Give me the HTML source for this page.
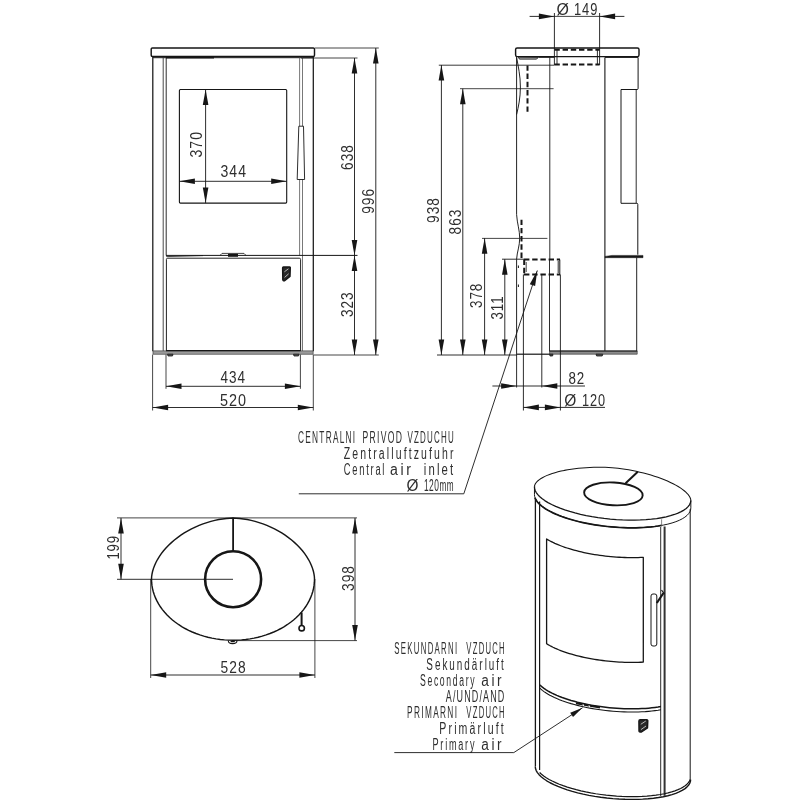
<!DOCTYPE html>
<html lang="cs"><head><meta charset="utf-8"><title>Technical drawing</title>
<style>
html,body{margin:0;padding:0;background:#fff}
body{width:800px;height:800px;overflow:hidden}
svg{display:block;will-change:transform}
text{font-family:"Liberation Sans",sans-serif;fill:#2e2e2e}
</style></head><body>
<svg width="800" height="800" viewBox="0 0 800 800">
<rect width="800" height="800" fill="#fff"/>
<g id="front">
<rect x="151.2" y="47.9" width="163.3" height="8.6" rx="1.2" fill="none" stroke="#161616" stroke-width="1.45"/>
<line x1="152.8" y1="56.5" x2="152.8" y2="351.3" stroke="#161616" stroke-width="1.25" />
<line x1="313.3" y1="56.5" x2="313.3" y2="351.3" stroke="#161616" stroke-width="1.25" />
<line x1="153" y1="57.7" x2="313" y2="57.7" stroke="#161616" stroke-width="1.0" />
<line x1="166" y1="57.6" x2="214" y2="57.6" stroke="#161616" stroke-width="1.6" />
<line x1="163.2" y1="57.5" x2="163.2" y2="351.3" stroke="#2a2a2a" stroke-width="0.85" />
<line x1="166.2" y1="57.5" x2="166.2" y2="255.5" stroke="#161616" stroke-width="0.9" />
<line x1="299.6" y1="57.5" x2="299.6" y2="255.5" stroke="#555" stroke-width="0.8" />
<line x1="302.5" y1="57.5" x2="302.5" y2="351.3" stroke="#555" stroke-width="0.8" />
<rect x="179.4" y="89.5" width="107.3" height="113.6" rx="1" fill="none" stroke="#161616" stroke-width="1.1"/>
<path d="M298.8 126.2 L303.5 126.2 L304.6 179.5 L297.2 179.5 Z" fill="#fff" stroke="#161616" stroke-width="0.9" />
<line x1="166" y1="255.4" x2="357.5" y2="255.4" stroke="#161616" stroke-width="1.0" />
<path d="M166.2 256.6 L203 255.6" fill="none" stroke="#161616" stroke-width="0.8" />
<path d="M220 255.4 L222 253.4 L244 253.4 L246 255.4" fill="none" stroke="#161616" stroke-width="0.8" />
<rect x="228" y="253.8" width="10" height="3" fill="#161616"/>
<path d="M166.4 351 L166.4 259.5 Q166.4 258.2 167.7 258.2 L299.3 258.2 Q300.6 258.2 300.6 259.5 L300.6 351" fill="none" stroke="#161616" stroke-width="0.95" />
<path d="M283.4 267 L289.6 267 Q290.4 267 290.3 268 L290 276.5 L284.5 280.8 Q282.8 281 282.8 279.8 L282.6 268 Q282.6 267 283.4 267 Z" fill="#2a2a2a" stroke="#161616" stroke-width="1.4" />
<path d="M284.4 271.8 L288.4 268.8 M284.6 277.4 L288.6 273.8" fill="none" stroke="#ddd" stroke-width="0.8" />
<rect x="153" y="350.9" width="160.1" height="3.3" fill="#9a9a9a" stroke="#444" stroke-width="0.7"/>
<line x1="166" y1="350.7" x2="300.6" y2="350.7" stroke="#161616" stroke-width="1.3" />
<path d="M167.5 354.2 L168 356 L172.5 356 L173 354.2 Z" fill="#555" stroke="#161616" stroke-width="0.8" />
<path d="M293.5 354.2 L294 356 L298.5 356 L299 354.2 Z" fill="#555" stroke="#161616" stroke-width="0.8" />
<line x1="205.6" y1="89.5" x2="205.6" y2="203.1" stroke="#161616" stroke-width="0.9" />
<polygon points="205.60,89.50 202.80,105.00 208.40,105.00" fill="#161616"/>
<polygon points="205.60,203.10 202.80,187.60 208.40,187.60" fill="#161616"/>
<line x1="179.4" y1="181.3" x2="286.7" y2="181.3" stroke="#161616" stroke-width="0.9" />
<polygon points="179.40,181.30 194.90,178.50 194.90,184.10" fill="#161616"/>
<polygon points="286.70,181.30 271.20,178.50 271.20,184.10" fill="#161616"/>
<text x="202.4" y="157.5" font-size="16.8" textLength="26.46" lengthAdjust="spacingAndGlyphs" letter-spacing="1.2" word-spacing="0" transform="rotate(-90 202.4 157.5)">370</text>
<text x="220.5" y="176.5" font-size="16.8" textLength="26.46" lengthAdjust="spacingAndGlyphs" letter-spacing="1.2" word-spacing="0">344</text>
<line x1="301" y1="58" x2="357.5" y2="58" stroke="#161616" stroke-width="0.8" />
<line x1="315" y1="48" x2="378.8" y2="48" stroke="#161616" stroke-width="0.8" />
<line x1="313.7" y1="355" x2="378.8" y2="355" stroke="#161616" stroke-width="0.8" />
<line x1="354.5" y1="58" x2="354.5" y2="355" stroke="#161616" stroke-width="0.9" />
<polygon points="354.50,58.00 351.70,73.50 357.30,73.50" fill="#161616"/>
<polygon points="354.50,255.40 351.70,239.90 357.30,239.90" fill="#161616"/>
<polygon points="354.50,255.40 351.70,270.90 357.30,270.90" fill="#161616"/>
<polygon points="354.50,355.00 351.70,339.50 357.30,339.50" fill="#161616"/>
<line x1="375.8" y1="48" x2="375.8" y2="355" stroke="#161616" stroke-width="0.9" />
<polygon points="375.80,48.00 373.00,63.50 378.60,63.50" fill="#161616"/>
<polygon points="375.80,355.00 373.00,339.50 378.60,339.50" fill="#161616"/>
<text x="353" y="170" font-size="16.8" textLength="25.96" lengthAdjust="spacingAndGlyphs" letter-spacing="1.2" word-spacing="0" transform="rotate(-90 353 170)">638</text>
<text x="353" y="317" font-size="16.8" textLength="25.46" lengthAdjust="spacingAndGlyphs" letter-spacing="1.2" word-spacing="0" transform="rotate(-90 353 317)">323</text>
<text x="374.5" y="213.8" font-size="16.8" textLength="25.96" lengthAdjust="spacingAndGlyphs" letter-spacing="1.2" word-spacing="0" transform="rotate(-90 374.5 213.8)">996</text>
<line x1="166" y1="354.6" x2="166" y2="388.8" stroke="#161616" stroke-width="0.8" />
<line x1="300.4" y1="354.6" x2="300.4" y2="388.8" stroke="#161616" stroke-width="0.8" />
<line x1="152.6" y1="354.6" x2="152.6" y2="410.5" stroke="#161616" stroke-width="0.8" />
<line x1="313.3" y1="354.6" x2="313.3" y2="410.5" stroke="#161616" stroke-width="0.8" />
<line x1="166" y1="386.3" x2="300.4" y2="386.3" stroke="#161616" stroke-width="0.9" />
<polygon points="166.00,386.30 181.50,383.50 181.50,389.10" fill="#161616"/>
<polygon points="300.40,386.30 284.90,383.50 284.90,389.10" fill="#161616"/>
<line x1="152.6" y1="407.5" x2="313.3" y2="407.5" stroke="#161616" stroke-width="0.9" />
<polygon points="152.60,407.50 168.10,404.70 168.10,410.30" fill="#161616"/>
<polygon points="313.30,407.50 297.80,404.70 297.80,410.30" fill="#161616"/>
<text x="220.5" y="383" font-size="16.8" textLength="25.46" lengthAdjust="spacingAndGlyphs" letter-spacing="1.2" word-spacing="0">434</text>
<text x="220" y="405.5" font-size="16.8" textLength="27.16" lengthAdjust="spacingAndGlyphs" letter-spacing="1.2" word-spacing="0">520</text>
</g>
<g id="side">
<rect x="515.6" y="48" width="123.4" height="8.6" rx="1.6" fill="none" stroke="#161616" stroke-width="1.45"/>
<path d="M518.4 57.2 L519.4 59.1 L536.6 59.1 L538.2 57.4 Z" fill="#bbb" stroke="#161616" stroke-width="0.9" />
<line x1="516.6" y1="56.8" x2="516.6" y2="214.6" stroke="#161616" stroke-width="0.95" />
<path d="M516.6 57.5 C518.2 66 520.4 76 520.4 87 C520.4 98 518.4 107 516.6 114.5" fill="none" stroke="#161616" stroke-width="0.95" />
<path d="M516.6 214.6 C517.2 224 519.7 230 519.7 238.2 C519.7 246 517 252 516.6 259.2" fill="none" stroke="#161616" stroke-width="0.95" />
<line x1="516.6" y1="259.2" x2="516.6" y2="355" stroke="#161616" stroke-width="0.95" />
<path d="M538.5 57.4 L554.4 57.4" fill="none" stroke="#161616" stroke-width="0.9" />
<line x1="549.8" y1="57.4" x2="549.8" y2="259" stroke="#161616" stroke-width="0.9" />
<line x1="549.5" y1="259" x2="549.5" y2="351.5" stroke="#161616" stroke-width="0.9" />
<line x1="604.9" y1="57.4" x2="604.9" y2="351" stroke="#161616" stroke-width="1.1" />
<line x1="604.9" y1="57.5" x2="638" y2="57.5" stroke="#161616" stroke-width="0.9" />
<path d="M638.1 57.4 L638.1 88.6 Q638.1 89.5 637 89.5 L621 89.5 L621 203.3 L636.9 203.3 Q637.8 203.3 637.8 204.4 L637.8 254.7" fill="none" stroke="#161616" stroke-width="1.0" />
<line x1="636.7" y1="257.5" x2="636.7" y2="351" stroke="#161616" stroke-width="0.95" />
<line x1="636.2" y1="89.5" x2="636.2" y2="203.3" stroke="#161616" stroke-width="0.9" />
<path d="M605 256.4 L612 255.4 L643 255.4 L643 257.7 L605 257.7 Z" fill="#161616" stroke="#161616" stroke-width="0.5" />
<path d="M549.6 351 L637.2 351 L637.2 354.2 L549.6 354.2 Z" fill="#8c8c8c" stroke="#444" stroke-width="0.7" />
<line x1="549.6" y1="351" x2="637.2" y2="351" stroke="#161616" stroke-width="1.1" />
<line x1="516.6" y1="354.2" x2="550" y2="354.2" stroke="#444" stroke-width="1.6" />
<path d="M549.6 354.2 L550 356 L552.6 356 L553 354.2 Z" fill="#444" stroke="#161616" stroke-width="0.8" />
<path d="M596 354.2 L596.6 356 L602.2 356 L602.8 354.2 Z" fill="#555" stroke="#161616" stroke-width="0.8" />
<line x1="554.4" y1="49.7" x2="599.6" y2="49.7" stroke="#161616" stroke-width="2.0" stroke-dasharray="5.4 2.8"/>
<line x1="554.4" y1="64.5" x2="599.6" y2="64.5" stroke="#161616" stroke-width="2.0" stroke-dasharray="5.4 2.8"/>
<line x1="557" y1="49.7" x2="557" y2="64.5" stroke="#161616" stroke-width="0.9" />
<line x1="597.4" y1="49.7" x2="597.4" y2="64.5" stroke="#161616" stroke-width="0.9" />
<line x1="554.4" y1="13" x2="554.4" y2="65" stroke="#161616" stroke-width="0.9" />
<line x1="599.6" y1="13" x2="599.6" y2="65" stroke="#161616" stroke-width="0.9" />
<line x1="529.6" y1="16.4" x2="554.4" y2="16.4" stroke="#161616" stroke-width="0.9" />
<line x1="599.6" y1="16.4" x2="624.4" y2="16.4" stroke="#161616" stroke-width="0.9" />
<line x1="554.4" y1="16.4" x2="599.6" y2="16.4" stroke="#161616" stroke-width="0.8" />
<polygon points="554.40,16.40 538.90,13.60 538.90,19.20" fill="#161616"/>
<polygon points="599.60,16.40 615.10,13.60 615.10,19.20" fill="#161616"/>
<line x1="527.5" y1="65.4" x2="527.5" y2="113.4" stroke="#161616" stroke-width="2.0" stroke-dasharray="5.4 2.8"/>
<line x1="521.5" y1="219.7" x2="521.5" y2="258" stroke="#161616" stroke-width="2.0" stroke-dasharray="5.4 2.8"/>
<line x1="524" y1="259.6" x2="560" y2="259.6" stroke="#161616" stroke-width="2.0" stroke-dasharray="5.4 2.8"/>
<line x1="524" y1="274.4" x2="560" y2="274.4" stroke="#161616" stroke-width="2.0" stroke-dasharray="5.4 2.8"/>
<line x1="524.2" y1="259.6" x2="524.2" y2="274.4" stroke="#161616" stroke-width="2.0" stroke-dasharray="5.4 2.8"/>
<line x1="559.8" y1="259.6" x2="559.8" y2="274.4" stroke="#161616" stroke-width="1.0" />
<line x1="558.2" y1="261" x2="558.2" y2="273" stroke="#161616" stroke-width="0.9" />
<line x1="526.2" y1="262" x2="526.2" y2="272" stroke="#161616" stroke-width="0.8" />
<line x1="523.4" y1="274.4" x2="523.4" y2="410.5" stroke="#161616" stroke-width="0.9" />
<line x1="541.8" y1="275" x2="541.8" y2="387.5" stroke="#161616" stroke-width="0.9" />
<line x1="560.4" y1="274.4" x2="560.4" y2="410.5" stroke="#161616" stroke-width="0.9" />
<line x1="516.6" y1="355" x2="516.6" y2="387.5" stroke="#161616" stroke-width="0.9" />
<line x1="518.4" y1="265.5" x2="518.4" y2="268" stroke="#161616" stroke-width="1.0" />
<line x1="518.4" y1="284.5" x2="518.4" y2="287" stroke="#161616" stroke-width="1.0" />
<line x1="438.8" y1="65.2" x2="554.4" y2="65.2" stroke="#161616" stroke-width="0.85" />
<line x1="460" y1="88.7" x2="553.6" y2="88.7" stroke="#161616" stroke-width="0.8" />
<line x1="482" y1="238.4" x2="547.4" y2="238.4" stroke="#161616" stroke-width="0.8" />
<line x1="502" y1="259.2" x2="524" y2="259.2" stroke="#161616" stroke-width="0.9" />
<line x1="437" y1="355" x2="517" y2="355" stroke="#161616" stroke-width="0.9" />
<line x1="441.4" y1="65" x2="441.4" y2="355" stroke="#161616" stroke-width="0.9" />
<polygon points="441.40,65.00 438.60,80.50 444.20,80.50" fill="#161616"/>
<polygon points="441.40,355.00 438.60,339.50 444.20,339.50" fill="#161616"/>
<line x1="462.8" y1="88.7" x2="462.8" y2="355" stroke="#161616" stroke-width="0.9" />
<polygon points="462.80,88.70 460.00,104.20 465.60,104.20" fill="#161616"/>
<polygon points="462.80,355.00 460.00,339.50 465.60,339.50" fill="#161616"/>
<line x1="484.6" y1="238.2" x2="484.6" y2="355" stroke="#161616" stroke-width="0.9" />
<polygon points="484.60,238.20 481.80,253.70 487.40,253.70" fill="#161616"/>
<polygon points="484.60,355.00 481.80,339.50 487.40,339.50" fill="#161616"/>
<line x1="504.8" y1="259.2" x2="504.8" y2="355" stroke="#161616" stroke-width="0.9" />
<polygon points="504.80,259.20 502.00,274.70 507.60,274.70" fill="#161616"/>
<polygon points="504.80,355.00 502.00,339.50 507.60,339.50" fill="#161616"/>
<text x="438.6" y="223" font-size="16.8" textLength="25.96" lengthAdjust="spacingAndGlyphs" letter-spacing="1.2" word-spacing="0" transform="rotate(-90 438.6 223)">938</text>
<text x="461" y="234.5" font-size="16.8" textLength="25.96" lengthAdjust="spacingAndGlyphs" letter-spacing="1.2" word-spacing="0" transform="rotate(-90 461 234.5)">863</text>
<text x="482.4" y="308" font-size="16.8" textLength="25.26" lengthAdjust="spacingAndGlyphs" letter-spacing="1.2" word-spacing="0" transform="rotate(-90 482.4 308)">378</text>
<text x="502.6" y="319.5" font-size="16.8" textLength="23.96" lengthAdjust="spacingAndGlyphs" letter-spacing="1.2" word-spacing="0" transform="rotate(-90 502.6 319.5)">311</text>
<line x1="492.4" y1="386" x2="585" y2="386" stroke="#161616" stroke-width="0.9" />
<polygon points="516.60,386.00 501.10,383.20 501.10,388.80" fill="#161616"/>
<polygon points="541.80,386.00 557.30,383.20 557.30,388.80" fill="#161616"/>
<line x1="523.4" y1="407.4" x2="605" y2="407.4" stroke="#161616" stroke-width="0.9" />
<polygon points="523.40,407.40 538.90,404.60 538.90,410.20" fill="#161616"/>
<polygon points="560.40,407.40 544.90,404.60 544.90,410.20" fill="#161616"/>
<text x="568.4" y="384" font-size="16.8" textLength="16.76" lengthAdjust="spacingAndGlyphs" letter-spacing="1.2" word-spacing="0">82</text>
<text y="405.6" font-size="16.8" letter-spacing="1.2"><tspan x="564.2" textLength="13.16" lengthAdjust="spacingAndGlyphs">Ø</tspan><tspan x="582" textLength="23.96" lengthAdjust="spacingAndGlyphs">120</tspan></text>
<text y="14.7" font-size="16.8" letter-spacing="1.2"><tspan x="556.4" textLength="13.56" lengthAdjust="spacingAndGlyphs">Ø</tspan><tspan x="574" textLength="24.26" lengthAdjust="spacingAndGlyphs">149</tspan></text>
</g>
<g id="lab1">
<text y="442.8" font-size="15.8" letter-spacing="2.4"><tspan x="298" textLength="58.42" lengthAdjust="spacingAndGlyphs">CENTRALNI</tspan> <tspan x="362.5" textLength="40.72" lengthAdjust="spacingAndGlyphs">PRIVOD</tspan> <tspan x="407.5" textLength="47.42" lengthAdjust="spacingAndGlyphs">VZDUCHU</tspan></text>
<text x="343.8" y="459" font-size="15.8" textLength="111.76" lengthAdjust="spacingAndGlyphs" letter-spacing="3.2" word-spacing="0">Zentralluftzufuhr</text>
<text y="475.3" font-size="15.8" letter-spacing="3"><tspan x="343.8" textLength="42.40" lengthAdjust="spacingAndGlyphs">Central</tspan> <tspan x="390" textLength="23.70" lengthAdjust="spacingAndGlyphs">air</tspan> <tspan x="423.8" textLength="31.60" lengthAdjust="spacingAndGlyphs">inlet</tspan></text>
<text y="491" font-size="15.8" letter-spacing="0.8"><tspan x="406.5" textLength="12.74" lengthAdjust="spacingAndGlyphs">Ø</tspan><tspan x="424" textLength="15.24" lengthAdjust="spacingAndGlyphs">120</tspan><tspan x="439.6" textLength="14.44" lengthAdjust="spacingAndGlyphs">mm</tspan></text>
<path d="M298.8 493.8 L463.8 493.8 L537.3 270.5" fill="none" stroke="#161616" stroke-width="0.9" />
<polygon points="537.30,270.50 535.11,286.10 529.79,284.35" fill="#161616"/>
</g>
<g id="top">
<path d="M151.50 579.00 L151.62 576.70 L152.00 574.05 L152.61 571.25 L153.48 568.37 L154.58 565.44 L155.92 562.48 L157.49 559.53 L159.29 556.59 L161.31 553.67 L163.54 550.81 L165.97 548.00 L168.60 545.26 L171.41 542.60 L174.40 540.03 L177.55 537.56 L180.85 535.21 L184.28 532.98 L187.84 530.88 L191.51 528.91 L195.27 527.10 L199.11 525.43 L203.00 523.92 L206.94 522.58 L210.90 521.40 L214.85 520.40 L218.77 519.58 L222.63 518.93 L226.37 518.47 L229.93 518.19 L233.00 518.10 L236.07 518.19 L239.63 518.47 L243.37 518.93 L247.23 519.58 L251.15 520.40 L255.10 521.40 L259.06 522.58 L263.00 523.92 L266.89 525.43 L270.73 527.10 L274.49 528.91 L278.16 530.88 L281.72 532.98 L285.15 535.21 L288.45 537.56 L291.60 540.03 L294.59 542.60 L297.40 545.26 L300.03 548.00 L302.46 550.81 L304.69 553.67 L306.71 556.59 L308.51 559.53 L310.08 562.48 L311.42 565.44 L312.52 568.37 L313.39 571.25 L314.00 574.05 L314.38 576.70 L314.50 579.00 L314.39 582.20 L314.05 585.40 L313.50 588.57 L312.72 591.72 L311.72 594.84 L310.51 597.91 L309.09 600.93 L307.45 603.89 L305.62 606.78 L303.58 609.60 L301.35 612.33 L298.93 614.97 L296.34 617.51 L293.57 619.95 L290.63 622.27 L287.53 624.48 L284.29 626.56 L280.90 628.51 L277.39 630.33 L273.75 632.00 L270.00 633.53 L266.15 634.91 L262.21 636.14 L258.18 637.20 L254.09 638.11 L249.94 638.86 L245.75 639.45 L241.52 639.86 L237.27 640.12 L233.00 640.20 L228.73 640.12 L224.48 639.86 L220.25 639.45 L216.06 638.86 L211.91 638.11 L207.82 637.20 L203.79 636.14 L199.85 634.91 L196.00 633.53 L192.25 632.00 L188.61 630.33 L185.10 628.51 L181.71 626.56 L178.47 624.48 L175.37 622.27 L172.43 619.95 L169.66 617.51 L167.07 614.97 L164.65 612.33 L162.42 609.60 L160.38 606.78 L158.55 603.89 L156.91 600.93 L155.49 597.91 L154.28 594.84 L153.28 591.72 L152.50 588.57 L151.95 585.40 L151.61 582.20 Z" fill="none" stroke="#161616" stroke-width="1.45" />
<circle cx="233.1" cy="579.2" r="28" fill="none" stroke="#161616" stroke-width="2.6"/>
<line x1="233.1" y1="517.8" x2="233.1" y2="551" stroke="#161616" stroke-width="1.8" />
<line x1="117" y1="579.3" x2="233" y2="579.3" stroke="#161616" stroke-width="0.9" />
<line x1="117" y1="517.9" x2="357" y2="517.9" stroke="#161616" stroke-width="0.8" />
<line x1="233" y1="640.6" x2="357" y2="640.6" stroke="#161616" stroke-width="0.8" />
<line x1="121" y1="517.9" x2="121" y2="579.3" stroke="#161616" stroke-width="0.9" />
<polygon points="121.00,517.90 118.20,533.40 123.80,533.40" fill="#161616"/>
<polygon points="121.00,579.30 118.20,563.80 123.80,563.80" fill="#161616"/>
<line x1="355" y1="517.9" x2="355" y2="640.6" stroke="#161616" stroke-width="0.9" />
<polygon points="355.00,517.90 352.20,533.40 357.80,533.40" fill="#161616"/>
<polygon points="355.00,640.60 352.20,625.10 357.80,625.10" fill="#161616"/>
<line x1="150.7" y1="579" x2="150.7" y2="678" stroke="#161616" stroke-width="0.8" />
<line x1="314.9" y1="579" x2="314.9" y2="678" stroke="#161616" stroke-width="0.8" />
<line x1="150.7" y1="675" x2="314.9" y2="675" stroke="#161616" stroke-width="0.9" />
<polygon points="150.70,675.00 166.20,672.20 166.20,677.80" fill="#161616"/>
<polygon points="314.90,675.00 299.40,672.20 299.40,677.80" fill="#161616"/>
<text x="119" y="559.6" font-size="16.8" textLength="24.56" lengthAdjust="spacingAndGlyphs" letter-spacing="1.2" word-spacing="0" transform="rotate(-90 119 559.6)">199</text>
<text x="353.5" y="591" font-size="16.8" textLength="25.96" lengthAdjust="spacingAndGlyphs" letter-spacing="1.2" word-spacing="0" transform="rotate(-90 353.5 591)">398</text>
<text x="220.6" y="672.6" font-size="16.8" textLength="25.96" lengthAdjust="spacingAndGlyphs" letter-spacing="1.2" word-spacing="0">528</text>
<line x1="301.6" y1="612.5" x2="301.6" y2="625" stroke="#161616" stroke-width="2.0" />
<circle cx="301.7" cy="628.2" r="2.7" fill="#fff" stroke="#161616" stroke-width="1.6"/>
<path d="M228.3 640.4 Q228.3 643.6 232.6 643.6 Q237 643.6 237 640.4" fill="none" stroke="#161616" stroke-width="1.1" />
<path d="M230.6 641.6 L234.8 641.6" fill="none" stroke="#161616" stroke-width="1.3" />
</g>
<g id="iso">
<path d="M690.80 500.86 L690.37 502.85 L689.47 504.77 L688.08 506.63 L686.23 508.41 L683.93 510.09 L681.19 511.67 L678.03 513.14 L674.46 514.49 L670.51 515.71 L666.21 516.80 L661.57 517.74 L656.64 518.53 L651.43 519.16 L645.98 519.64 L640.33 519.96 L634.51 520.11 L628.55 520.10 L622.50 519.92 L616.38 519.59 L610.24 519.09 L604.12 518.43 L598.04 517.62 L592.06 516.66 L586.21 515.56 L580.52 514.32 L575.02 512.96 L569.76 511.47 L564.76 509.87 L560.06 508.18 L555.68 506.39 L551.66 504.52 L548.01 502.58 L544.75 500.59 L541.92 498.56 L539.52 496.49 L537.58 494.41 L536.09 492.32 L535.08 490.23 L534.55 488.17 L534.50 486.14" fill="none" stroke="#161616" stroke-width="1.3" stroke-linejoin="round" />
<path d="M534.50 486.14 L534.71 485.19 L535.17 484.10 L535.87 482.98 L536.81 481.85 L537.99 480.72 L539.39 479.60 L541.01 478.50 L542.85 477.43 L544.90 476.39 L547.16 475.38 L549.60 474.42 L552.23 473.51 L555.03 472.64 L558.00 471.83 L561.11 471.08 L564.37 470.39 L567.75 469.77 L571.25 469.20 L574.84 468.71 L578.52 468.29 L582.27 467.93 L586.06 467.65 L589.89 467.44 L593.73 467.30 L597.56 467.24 L601.35 467.25 L605.08 467.33 L608.69 467.47 L612.11 467.67 L615.06 467.91 L618.00 468.23 L621.40 468.67 L624.98 469.20 L628.65 469.82 L632.38 470.52 L636.13 471.30 L639.87 472.15 L643.59 473.07 L647.27 474.05 L650.88 475.10 L654.42 476.20 L657.86 477.36 L661.19 478.56 L664.39 479.81 L667.47 481.10 L670.39 482.42 L673.15 483.77 L675.74 485.14 L678.15 486.53 L680.38 487.93 L682.40 489.33 L684.22 490.74 L685.83 492.14 L687.22 493.52 L688.39 494.88 L689.33 496.21 L690.04 497.50 L690.52 498.73 L690.78 499.88 L690.80 500.86" fill="none" stroke="#161616" stroke-width="1.05" stroke-linejoin="round" />
<path d="M534.46 494.61 L534.69 496.65 L535.41 498.73 L536.60 500.81 L538.27 502.90 L540.39 504.98 L542.95 507.04 L545.95 509.06 L549.35 511.03 L553.15 512.94 L557.31 514.78 L561.82 516.54 L566.64 518.20 L571.74 519.75 L577.09 521.19 L582.67 522.51 L588.43 523.70 L594.33 524.75 L600.35 525.65 L606.45 526.40 L612.59 527.00 L618.72 527.43 L624.82 527.71 L630.84 527.82 L636.75 527.77 L642.51 527.55 L648.09 527.18 L653.45 526.64 L658.56 525.94 L663.38 525.09 L667.89 524.10 L672.07 522.96 L675.87 521.69 L679.29 520.30 L682.29 518.78 L684.86 517.16 L686.99 515.44 L688.67 513.63 L689.87 511.74 L690.60 509.79 L690.84 507.79" fill="none" stroke="#161616" stroke-width="1.0" stroke-linejoin="round" />
<path d="M661.50 525.45 L658.18 526.00 L654.74 526.48 L651.18 526.89 L647.50 527.22 L643.73 527.49 L639.87 527.67 L635.94 527.79 L631.94 527.82 L627.88 527.79 L623.78 527.67 L619.65 527.49 L615.50 527.22 L611.34 526.89 L607.18 526.48 L603.05 526.00 L598.93 525.45 L594.86 524.83 L590.84 524.14 L586.87 523.39 L582.99 522.58 L579.18 521.71 L575.47 520.78 L571.87 519.79 L568.38 518.75 L565.01 517.66 L561.78 516.52 L558.70 515.34 L555.77 514.12 L552.99 512.87 L550.39 511.58 L547.96 510.26 L545.72 508.92 L543.66 507.55 L541.80 506.17 L540.15 504.77 L538.69 503.36 L537.45 501.95 L536.42 500.53 L535.60 499.12 L535.00 497.71" fill="none" stroke="#161616" stroke-width="1.7" stroke-linejoin="round" />
<path d="M534.46 486.91 L534.46 494.61 M690.84 500.09 L690.84 507.79" fill="none" stroke="#161616" stroke-width="1.0" stroke-linejoin="round" />
<path d="M661.6 519.3 L661.6 526.5" fill="none" stroke="#555" stroke-width="0.7" stroke-linejoin="round" />
<ellipse cx="613.4" cy="493.9" rx="29.3" ry="11.4" transform="rotate(3 613.4 493.9)" fill="none" stroke="#161616" stroke-width="1.9"/>
<path d="M625.6 483.2 L637.8 471.8" fill="none" stroke="#161616" stroke-width="2.0" stroke-linejoin="round" />
<path d="M535.4 498 L535.4 766.3" fill="none" stroke="#161616" stroke-width="1.3" stroke-linejoin="round" />
<path d="M539.6 501.5 L539.6 770" fill="none" stroke="#161616" stroke-width="1.2" stroke-linejoin="round" />
<path d="M690.2 509 L690.2 779.8" fill="none" stroke="#161616" stroke-width="1.0" stroke-linejoin="round" />
<path d="M660.7 527 L660.7 796" fill="none" stroke="#161616" stroke-width="0.9" stroke-linejoin="round" />
<path d="M664.6 526.5 L664.6 795.8" fill="none" stroke="#333" stroke-width="2.0" stroke-linejoin="round" />
<path d="M546.60 538.94 L548.08 539.84 L549.64 540.72 L551.29 541.59 L553.01 542.45 L554.81 543.30 L556.68 544.12 L558.63 544.94 L560.64 545.73 L562.72 546.51 L564.86 547.27 L567.06 548.00 L569.33 548.72 L571.64 549.41 L574.01 550.08 L576.43 550.73 L578.90 551.35 L581.41 551.95 L583.96 552.52 L586.54 553.06 L589.16 553.57 L591.81 554.06 L594.49 554.52 L597.19 554.94 L599.91 555.34 L602.64 555.71 L605.39 556.04 L608.15 556.35 L610.92 556.62 L613.69 556.86 L616.45 557.07 L619.21 557.24 L621.97 557.39 L624.71 557.49 L627.44 557.57 L630.15 557.61 L632.84 557.62 L635.50 557.59 L638.13 557.53 L640.73 557.44 L643.30 557.32 L643.30 662.12 L640.73 662.24 L638.13 662.33 L635.50 662.39 L632.84 662.42 L630.15 662.41 L627.44 662.37 L624.71 662.29 L621.97 662.19 L619.21 662.04 L616.45 661.87 L613.69 661.66 L610.92 661.42 L608.15 661.15 L605.39 660.84 L602.64 660.51 L599.91 660.14 L597.19 659.74 L594.49 659.32 L591.81 658.86 L589.16 658.37 L586.54 657.86 L583.96 657.32 L581.41 656.75 L578.90 656.15 L576.43 655.53 L574.01 654.88 L571.64 654.21 L569.33 653.52 L567.06 652.80 L564.86 652.07 L562.72 651.31 L560.64 650.53 L558.63 649.74 L556.68 648.92 L554.81 648.10 L553.01 647.25 L551.29 646.39 L549.64 645.52 L548.08 644.64 L546.60 643.74 Z" fill="none" stroke="#161616" stroke-width="1.3" stroke-linejoin="round" />
<rect x="651" y="594" width="5.8" height="52" rx="2" fill="#fff" stroke="#161616" stroke-width="1.0"/>
<path d="M656.8 603 L663.5 593" fill="none" stroke="#161616" stroke-width="2.2" stroke-linejoin="round" />
<path d="M661.5 590 L664.5 594" fill="none" stroke="#161616" stroke-width="1.2" stroke-linejoin="round" />
<path d="M539.60 684.68 L540.90 685.93 L542.36 687.17 L543.99 688.40 L545.77 689.61 L547.70 690.81 L549.77 691.99 L551.99 693.15 L554.35 694.29 L556.84 695.39 L559.46 696.47 L562.20 697.52 L565.05 698.53 L568.01 699.51 L571.07 700.45 L574.23 701.34 L577.48 702.20 L580.80 703.00 L584.20 703.77 L587.66 704.48 L591.18 705.15 L594.75 705.76 L598.36 706.32 L602.00 706.83 L605.67 707.28 L609.35 707.67 L613.05 708.01 L616.74 708.29 L620.42 708.51 L624.09 708.67 L627.73 708.78 L631.34 708.82 L634.91 708.80 L638.42 708.73 L641.88 708.59 L645.28 708.40 L648.60 708.14 L651.84 707.83 L654.99 707.46 L658.05 707.04 L661.00 706.55" fill="none" stroke="#161616" stroke-width="1.5" stroke-linejoin="round" />
<path d="M539.60 687.88 L540.90 689.13 L542.36 690.37 L543.99 691.60 L545.77 692.81 L547.70 694.01 L549.77 695.19 L551.99 696.35 L554.35 697.49 L556.84 698.59 L559.46 699.67 L562.20 700.72 L565.05 701.73 L568.01 702.71 L571.07 703.65 L574.23 704.54 L577.48 705.40 L580.80 706.20 L584.20 706.97 L587.66 707.68 L591.18 708.35 L594.75 708.96 L598.36 709.52 L602.00 710.03 L605.67 710.48 L609.35 710.87 L613.05 711.21 L616.74 711.49 L620.42 711.71 L624.09 711.87 L627.73 711.98 L631.34 712.02 L634.91 712.00 L638.42 711.93 L641.88 711.79 L645.28 711.60 L648.60 711.34 L651.84 711.03 L654.99 710.66 L658.05 710.24 L661.00 709.75" fill="none" stroke="#161616" stroke-width="1.1" stroke-linejoin="round" />
<path d="M576 703.2 L600 707.6" fill="none" stroke="#161616" stroke-width="2.0" stroke-linejoin="round" />
<path d="M583 704.2 L583.6 706 M589 705.4 L589.6 707.2" fill="none" stroke="#fff" stroke-width="1" stroke-linejoin="round" />
<path d="M640.2 719.8 L646.8 719.8 Q647.9 719.8 647.8 721 L647.5 728 L641.5 732 Q639 732.3 639 731 L638.9 721 Q638.9 719.8 640.2 719.8 Z" fill="#2a2a2a" stroke="#161616" stroke-width="1.4" stroke-linejoin="round" />
<path d="M640.8 724.3 L645.8 721 M641 729.6 L646 726" fill="none" stroke="#ddd" stroke-width="0.8" stroke-linejoin="round" />
<path d="M535.26 766.45 L535.49 768.48 L536.20 770.54 L537.39 772.61 L539.04 774.68 L541.15 776.74 L543.70 778.79 L546.67 780.79 L550.06 782.75 L553.83 784.64 L557.97 786.47 L562.45 788.21 L567.23 789.86 L572.30 791.40 L577.62 792.83 L583.16 794.14 L588.88 795.32 L594.75 796.36 L600.74 797.26 L606.79 798.00 L612.89 798.60 L618.99 799.03 L625.04 799.30 L631.03 799.42 L636.90 799.37 L642.63 799.15 L648.17 798.78 L653.49 798.25 L658.57 797.56 L663.36 796.72 L667.84 795.73 L671.99 794.60 L675.77 793.34 L679.16 791.96 L682.15 790.45 L684.71 788.85 L686.82 787.14 L688.48 785.34 L689.68 783.47 L690.40 781.54 L690.64 779.55" fill="none" stroke="#161616" stroke-width="1.4" stroke-linejoin="round" />
<path d="M539.60 772.48 L541.50 774.25 L543.71 776.00 L546.25 777.72 L549.09 779.41 L552.21 781.06 L555.62 782.66 L559.28 784.20 L563.19 785.68 L567.33 787.09 L571.67 788.42 L576.21 789.67 L580.90 790.83 L585.75 791.89 L590.72 792.86 L595.79 793.73 L600.93 794.48 L606.14 795.13 L611.37 795.66 L616.61 796.08 L621.83 796.38 L627.02 796.56 L632.14 796.62 L637.17 796.56 L642.09 796.38 L646.88 796.08 L651.51 795.66 L655.97 795.13 L660.24 794.49 L664.29 793.73 L668.10 792.87 L671.66 791.90 L674.96 790.83 L677.98 789.67 L680.69 788.43 L683.10 787.10 L685.20 785.69 L686.96 784.21 L688.38 782.67 L689.47 781.07 L690.20 779.42" fill="none" stroke="#161616" stroke-width="1.2" stroke-linejoin="round" />
</g>
<g id="lab2">
<text y="654" font-size="15.8" letter-spacing="2.6"><tspan x="394.3" textLength="64.08" lengthAdjust="spacingAndGlyphs">SEKUNDARNI</tspan> <tspan x="466.3" textLength="39.58" lengthAdjust="spacingAndGlyphs">VZDUCH</tspan></text>
<text x="426.3" y="669.9" font-size="15.8" textLength="79.56" lengthAdjust="spacingAndGlyphs" letter-spacing="3.2" word-spacing="0">Sekundärluft</text>
<text y="685.8" font-size="15.8" letter-spacing="3.0"><tspan x="420" textLength="56.20" lengthAdjust="spacingAndGlyphs">Secondary</tspan> <tspan x="481.3" textLength="22.90" lengthAdjust="spacingAndGlyphs">air</tspan></text>
<text x="445.8" y="702.3" font-size="15.8" textLength="59.6" lengthAdjust="spacingAndGlyphs" letter-spacing="2.0" word-spacing="0">A/UND/AND</text>
<text y="717.9" font-size="15.8" letter-spacing="2.6"><tspan x="407" textLength="51.38" lengthAdjust="spacingAndGlyphs">PRIMARNI</tspan> <tspan x="466.3" textLength="39.58" lengthAdjust="spacingAndGlyphs">VZDUCH</tspan></text>
<text x="439.3" y="734.1" font-size="15.8" textLength="66.56" lengthAdjust="spacingAndGlyphs" letter-spacing="3.2" word-spacing="0">Primärluft</text>
<text y="749.8" font-size="15.8" letter-spacing="3.0"><tspan x="432.5" textLength="43.70" lengthAdjust="spacingAndGlyphs">Primary</tspan> <tspan x="481.3" textLength="22.90" lengthAdjust="spacingAndGlyphs">air</tspan></text>
<path d="M394.3 752.6 L513.8 752.6 L582.5 707.8" fill="none" stroke="#161616" stroke-width="0.9" />
<polygon points="582.50,707.80 573.03,717.08 570.19,712.72" fill="#161616"/>
</g>
</svg>
</body></html>
